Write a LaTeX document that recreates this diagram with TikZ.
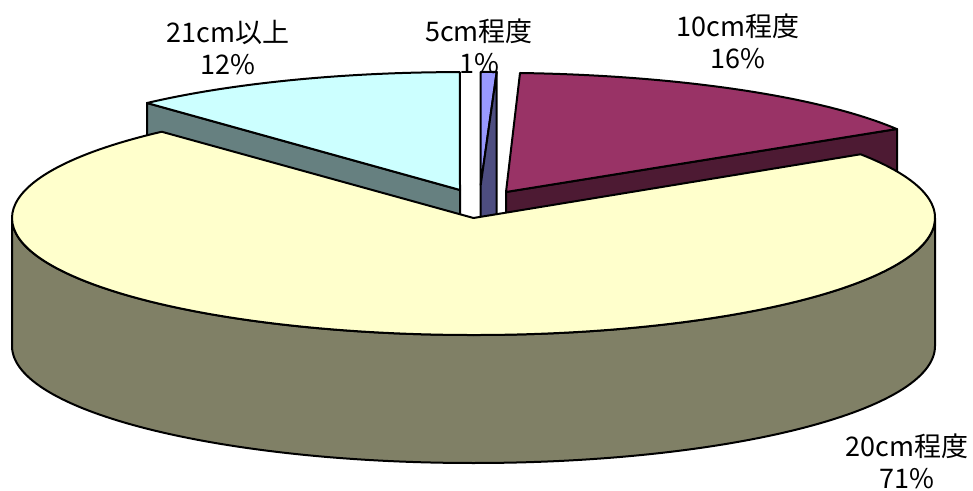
\documentclass[tikz,border=0pt]{standalone}
\usepackage{fontspec}
\setmainfont{Noto Sans CJK JP}
\usetikzlibrary{calc}
\definecolor{topTwenty}{HTML}{FFFFCC}
\definecolor{sideTwenty}{HTML}{808066}
\definecolor{topTwentyOne}{HTML}{CCFFFF}
\definecolor{sideTwentyOne}{HTML}{668080}
\definecolor{topTen}{HTML}{993366}
\definecolor{sideTen}{HTML}{4D1A33}
\definecolor{topFive}{HTML}{9999FF}
\definecolor{sideFive}{HTML}{4D4D80}
\begin{document}
\begin{tikzpicture}[x=1pt, y=1pt, line width=2pt, line join=round]
\tikzstyle{every node}=[font=\fontsize{27}{32}\selectfont, align=center, inner sep=0pt]
\tikzstyle{slice}=[draw=black]
\useasboundingbox (0,0) rectangle (973,490);
\coordinate (o)		at (473.5,272);
\coordinate (c21)	at (460,300);
\coordinate (c5)	at (480.7,305);
\coordinate (c10)	at (506,298);
% 21cm
\filldraw[slice, fill=sideTwentyOne]
	(c21) -- (147,387) -- (147,259) -- (460,172) -- cycle;
\filldraw[slice, fill=topTwentyOne]
	(c21) -- (147,387) arc[start angle=133.2, end angle=90, x radius=457, y radius=114] -- cycle;
% 5cm
\filldraw[slice, fill=topFive]
	(c5) -- (480.7,418) -- (496.7,418) -- cycle;
\filldraw[slice, fill=sideFive]
	(c5) -- (496.7,418) -- (496.7,278) -- (480.7,165) -- cycle;
% 10cm
\filldraw[slice, fill=sideTen]
	(c10) -- (897,361) -- (897,233) -- (506,170) -- cycle;
\filldraw[slice, fill=topTen]
	(c10) -- (520,417) arc[start angle=86.4, end angle=28.8, x radius=463, y radius=108.5] -- cycle;
% 20cm
\filldraw[slice, fill=sideTwenty]
	($(o)+(-461.5,0)$) arc[start angle=180, end angle=360, x radius=461.5, y radius=117]
	-- ++(0,-128) arc[start angle=360, end angle=180, x radius=461.5, y radius=117] -- cycle;
\filldraw[slice, fill=topTwenty]
	(o) -- ($(o)+(33:461.5 and 117)$) arc[start angle=33, end angle=-227.5, x radius=461.5, y radius=117] -- cycle;
% labels
\node (lbl21)	at (228,442)	{21cm以上\\12\%};
\node (lbl5)	at (479,444)	{5cm程度\\1\%};
\node (lbl10)	at (738,449)	{10cm程度\\16\%};
\node (lbl20)	at (907,29)	{20cm程度\\71\%};
\end{tikzpicture}
\end{document}
